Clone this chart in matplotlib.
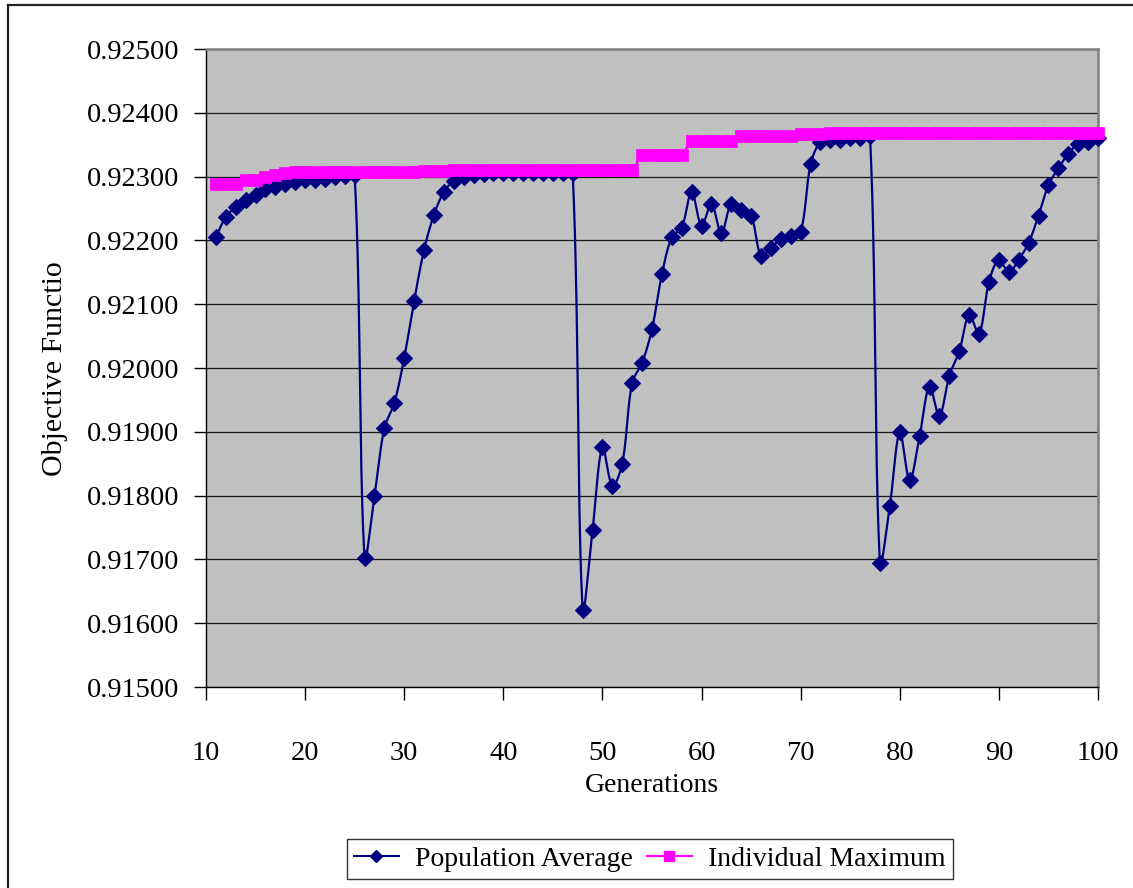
import numpy as np
import matplotlib
matplotlib.use("Agg")
import matplotlib.pyplot as plt
from matplotlib.lines import Line2D
from matplotlib.ticker import FormatStrFormatter, MultipleLocator

# ---- data ----
generations = list(range(11, 101))

population_average = [
    0.92205, 0.92237, 0.92252, 0.92263, 0.92271, 0.92280, 0.92284, 0.92288, 0.92292, 0.92294,  # 11-20
    0.92295, 0.92297, 0.92299, 0.92301, 0.92302, 0.91702, 0.91800, 0.91906, 0.91945, 0.92016,  # 21-30
    0.92105, 0.92185, 0.92240, 0.92276, 0.92293, 0.92299, 0.92303, 0.92304, 0.92305, 0.92305,  # 31-40
    0.92305, 0.92305, 0.92305, 0.92305, 0.92305, 0.92305, 0.92305, 0.91621, 0.91746, 0.91876,  # 41-50
    0.91815, 0.91850, 0.91977, 0.92008, 0.92061, 0.92147, 0.92205, 0.92220, 0.92276, 0.92223,  # 51-60
    0.92257, 0.92211, 0.92257, 0.92248, 0.92239, 0.92176, 0.92188, 0.92202, 0.92207, 0.92213,  # 61-70
    0.92319, 0.92355, 0.92358, 0.92358, 0.92361, 0.92361, 0.92363, 0.91694, 0.91784, 0.91899,  # 71-80
    0.91824, 0.91893, 0.91971, 0.91925, 0.91988, 0.92026, 0.92083, 0.92054, 0.92135, 0.92170,  # 81-90
    0.92150, 0.92170, 0.92196, 0.92239, 0.92287, 0.92313, 0.92336, 0.92351, 0.92354, 0.92361,  # 91-100
]

individual_maximum = [
    0.92288, 0.92288, 0.92288, 0.92295, 0.92295, 0.92300, 0.92303, 0.92305, 0.92307, 0.92307,  # 11-20
    0.92307, 0.92307, 0.92307, 0.92307, 0.92307, 0.92307, 0.92307, 0.92307, 0.92307, 0.92307,  # 21-30
    0.92307, 0.92308, 0.92308, 0.92308, 0.92310, 0.92310, 0.92310, 0.92310, 0.92310, 0.92310,  # 31-40
    0.92310, 0.92310, 0.92310, 0.92310, 0.92310, 0.92310, 0.92310, 0.92310, 0.92310, 0.92310,  # 41-50
    0.92310, 0.92310, 0.92310, 0.92334, 0.92334, 0.92334, 0.92334, 0.92334, 0.92356, 0.92356,  # 51-60
    0.92356, 0.92356, 0.92356, 0.92363, 0.92363, 0.92363, 0.92363, 0.92363, 0.92363, 0.92366,  # 61-70
    0.92366, 0.92366, 0.92369, 0.92369, 0.92369, 0.92369, 0.92369, 0.92369, 0.92369, 0.92369,  # 71-80
    0.92369, 0.92369, 0.92369, 0.92369, 0.92369, 0.92369, 0.92369, 0.92369, 0.92369, 0.92369,  # 81-90
    0.92369, 0.92369, 0.92369, 0.92369, 0.92369, 0.92369, 0.92369, 0.92369, 0.92369, 0.92369,  # 91-100
]

series_names = ["Population Average", "Individual Maximum"]
x_ticks = list(range(10, 101, 10))


def smooth(ax, xs, ys, n=30):
    """Spreadsheet-style smoothed line: Bezier segments whose control
    points are weighted by neighbouring segment lengths (display space)."""
    pts = ax.transData.transform(np.column_stack([xs, ys]))
    P = np.vstack([pts[0], pts, pts[-1]])
    t = np.linspace(0, 1, n, endpoint=False)[:, None]
    out = []
    k = 1.0 / 3.0
    for i in range(1, len(P) - 2):
        p0, p1, p2, p3 = P[i - 1], P[i], P[i + 1], P[i + 2]
        d01 = np.hypot(*(p1 - p0)); d12 = np.hypot(*(p2 - p1)); d23 = np.hypot(*(p3 - p2))
        w1 = d12 / (d01 + d12) if (d01 + d12) > 0 else 0.5
        w2 = d12 / (d12 + d23) if (d12 + d23) > 0 else 0.5
        c1 = p1 + (p2 - p0) * k * w1
        c2 = p2 - (p3 - p1) * k * w2
        seg = ((1 - t) ** 3) * p1 + 3 * ((1 - t) ** 2) * t * c1 + 3 * (1 - t) * t ** 2 * c2 + t ** 3 * p2
        out.append(seg)
    out.append(P[-2][None, :])
    disp = np.vstack(out)
    data = ax.transData.inverted().transform(disp)
    return data[:, 0], data[:, 1]


plt.rcParams['font.family'] = ['Liberation Serif', 'DejaVu Serif']

W, H = 1133, 888
fig = plt.figure(figsize=(W / 100, H / 100), dpi=100)
fig.patch.set_facecolor('white')

left, right, top, bottom = 206, 1098, 49, 687
ax = fig.add_axes([left / W, 1 - bottom / H, (right - left) / W, (bottom - top) / H])
ax.set_facecolor('#C0C0C0')
ax.set_xlim(10, 100)
ax.set_ylim(0.915, 0.925)

navy = '#000080'
magenta = '#FF00FF'

sx, sy = smooth(ax, generations, population_average)
ax.plot(sx, sy, color=navy, lw=1.6, zorder=3)
ax.plot(generations, population_average, ls='none', marker='D', ms=7.8,
        mfc=navy, mec=navy, mew=0.8, zorder=4, clip_on=False)

mx, my = smooth(ax, generations, individual_maximum)
ax.plot(mx, my, color=magenta, lw=1.6, zorder=5)
ax.plot(generations, individual_maximum, ls='none', marker='s', ms=8.2,
        mfc=magenta, mec=magenta, mew=0.5, zorder=6, clip_on=False)

ax.set_xticks(x_ticks)
ax.yaxis.set_major_locator(MultipleLocator(0.001))
ax.yaxis.set_major_formatter(FormatStrFormatter('%.5f'))

ax.grid(axis='y', color='#1a1a1a', lw=0.9, zorder=1)
ax.set_axisbelow(True)

for s in ['left', 'bottom']:
    ax.spines[s].set_color('black')
    ax.spines[s].set_linewidth(1.0)
for s in ['right', 'top']:
    ax.spines[s].set_color('#808080')
    ax.spines[s].set_linewidth(1.8)

ax.tick_params(axis='y', direction='out', length=9, width=1, pad=10, labelsize=20.5)
ax.tick_params(axis='x', direction='out', length=9, width=1, pad=30, labelsize=20.5)

fig.text(652 / W, 1 - 786 / H, 'Generations', ha='center', va='center', fontsize=20)
fig.text(55 / W, 1 - 369 / H, 'Objective Functio', ha='center', va='center',
         rotation=90, fontsize=21.5)

handles = [
    Line2D([], [], color=navy, lw=1.5, marker='D', ms=6.5, mfc=navy, mec=navy),
    Line2D([], [], color=magenta, lw=1.5, marker='s', ms=7, mfc=magenta, mec=magenta),
]
leg = fig.legend(handles, series_names, loc='center', ncol=2,
                 bbox_to_anchor=(650 / W, 1 - 859 / H), fontsize=20,
                 frameon=True, fancybox=False, edgecolor='black',
                 handlelength=1.6, handletextpad=0.6, columnspacing=0.5,
                 borderpad=0.25, borderaxespad=0)
leg.get_frame().set_linewidth(1.0)

# outer chart frame (only left and top edges visible)
fig.add_artist(Line2D([8 / W, 8 / W], [0, 1 - 5 / H], color='#222222', lw=1.6,
                      transform=fig.transFigure))
fig.add_artist(Line2D([8 / W, 1], [1 - 5 / H, 1 - 5 / H], color='#222222', lw=1.6,
                      transform=fig.transFigure))

fig.savefig('out.png', dpi=100)
